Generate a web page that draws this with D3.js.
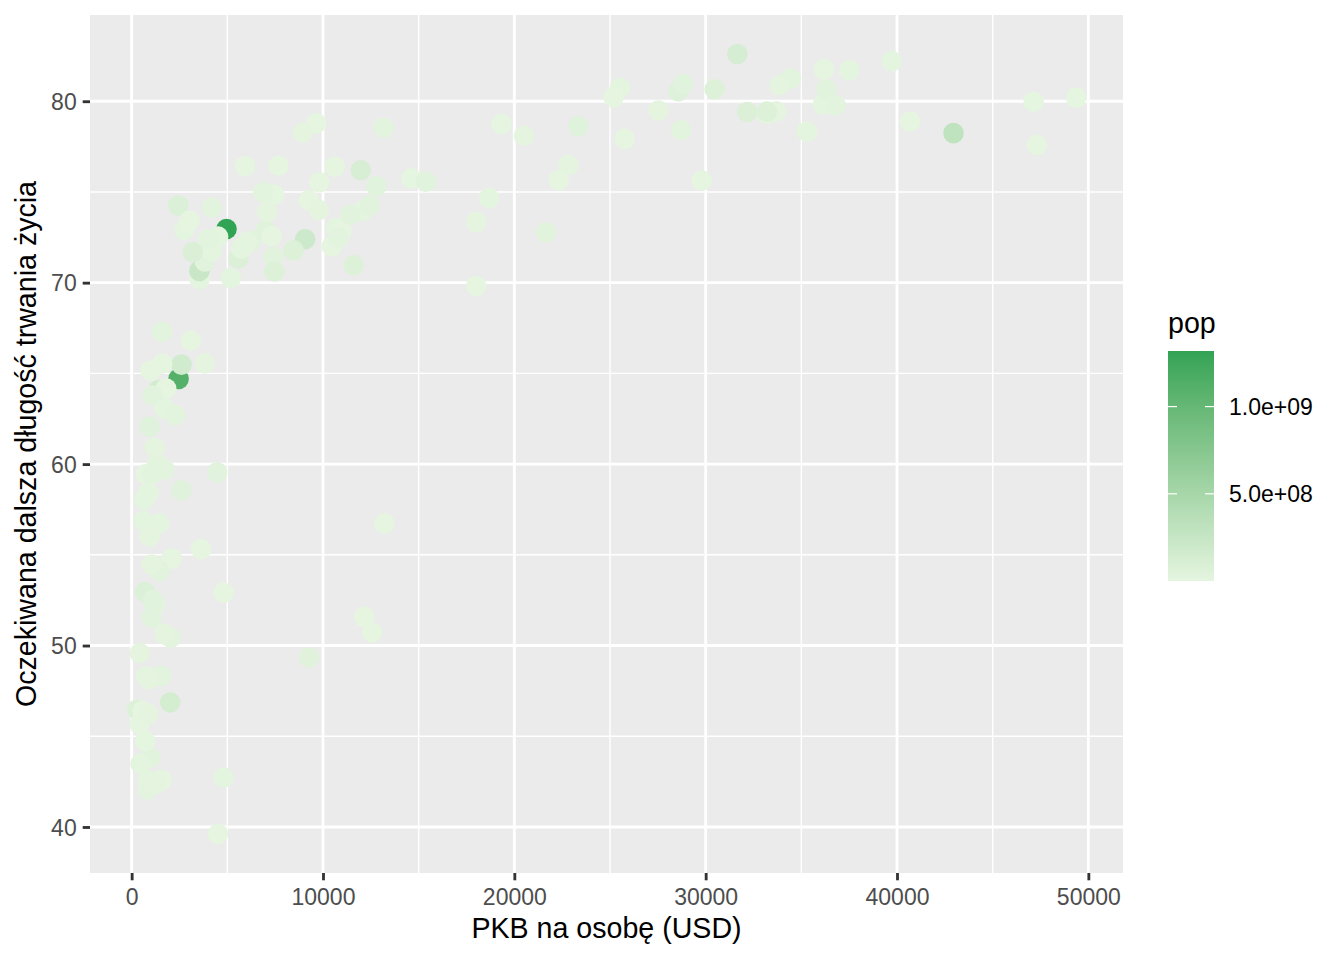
<!DOCTYPE html>
<html><head><meta charset="utf-8">
<script src="https://cdn.jsdelivr.net/npm/d3@7"></script>
<style>body{margin:0;background:#fff}svg{display:block;font-family:"Liberation Sans",Arial,Helvetica,sans-serif}</style>
</head><body><svg id="c" width="1344" height="960"></svg>
<script>
const countries=["Afghanistan","Albania","Algeria","Angola","Argentina","Australia","Austria","Bahrain","Bangladesh","Belgium","Benin","Bolivia","Bosnia and Herzegovina","Botswana","Brazil","Bulgaria","Burkina Faso","Burundi","Cambodia","Cameroon","Canada","Central African Republic","Chad","Chile","China","Colombia","Comoros","Congo, Dem. Rep.","Congo, Rep.","Costa Rica","Cote d'Ivoire","Croatia","Cuba","Czech Republic","Denmark","Djibouti","Dominican Republic","Ecuador","Egypt","El Salvador","Equatorial Guinea","Eritrea","Ethiopia","Finland","France","Gabon","Gambia","Germany","Ghana","Greece","Guatemala","Guinea","Guinea-Bissau","Haiti","Honduras","Hong Kong, China","Hungary","Iceland","India","Indonesia","Iran","Iraq","Ireland","Israel","Italy","Jamaica","Japan","Jordan","Kenya","Korea, Dem. Rep.","Korea, Rep.","Kuwait","Lebanon","Lesotho","Liberia","Libya","Madagascar","Malawi","Malaysia","Mali","Mauritania","Mauritius","Mexico","Mongolia","Montenegro","Morocco","Mozambique","Myanmar","Namibia","Nepal","Netherlands","New Zealand","Nicaragua","Niger","Nigeria","Norway","Oman","Pakistan","Panama","Paraguay","Peru","Philippines","Poland","Portugal","Puerto Rico","Reunion","Romania","Rwanda","Sao Tome and Principe","Saudi Arabia","Senegal","Serbia","Sierra Leone","Singapore","Slovak Republic","Slovenia","Somalia","South Africa","Spain","Sri Lanka","Sudan","Swaziland","Sweden","Switzerland","Syria","Taiwan","Tanzania","Thailand","Togo","Trinidad and Tobago","Tunisia","Turkey","Uganda","United Kingdom","United States","Uruguay","Venezuela","Vietnam","West Bank and Gaza","Yemen, Rep.","Zambia","Zimbabwe"];
const lifeExp=[43.828,76.423,72.301,42.731,75.320,81.235,79.829,75.635,64.062,79.441,56.728,65.554,74.852,50.728,72.390,73.005,52.295,49.580,59.723,50.430,80.653,44.741,50.651,78.553,72.961,72.889,65.152,46.462,55.322,78.782,48.328,75.748,78.273,76.486,78.332,54.791,72.235,74.994,71.338,71.878,51.579,58.040,52.947,79.313,80.657,56.735,59.448,79.406,60.022,79.483,70.259,56.007,46.388,60.916,70.198,82.208,73.338,81.757,64.698,70.650,70.964,59.545,78.885,80.745,80.546,72.567,82.603,72.535,54.110,67.297,78.623,77.588,71.993,42.592,45.678,73.952,59.443,48.303,74.241,54.467,64.164,72.801,76.195,66.803,74.543,71.164,42.082,62.069,52.906,63.785,79.762,80.204,72.899,56.867,46.859,80.196,75.640,65.483,75.537,71.752,71.421,71.688,75.563,78.098,78.746,76.442,72.476,46.242,65.528,72.777,63.062,74.002,42.568,79.972,74.663,77.926,48.159,49.339,80.941,72.396,58.556,39.613,80.884,81.701,74.143,78.400,52.517,70.616,58.420,69.819,73.923,71.777,51.542,79.425,78.242,76.384,73.747,74.249,73.422,62.698,42.384,43.487];
const pop=[31889923,3600523,33333216,12420476,40301927,20434176,8199783,708573,150448339,10392226,8078314,9119152,4552198,1639131,190010647,7322858,14326203,8390505,14131858,17696293,33390141,4369038,10238807,16284741,1318683096,44227550,710960,64606759,3800610,4133884,18013409,4493312,11416987,10228744,5468120,496374,9319622,13755680,80264543,6939688,551201,4906585,76511887,5238460,61083916,1454867,1688359,82400996,22873338,10706290,12572928,9947814,1472041,8502814,7483763,6980412,9956108,301931,1110396331,223547000,69453570,27499638,4109086,6426679,58147733,2780132,127467972,6053193,35610177,23301725,49044790,2505559,3921278,2012649,3193942,6036914,19167654,13327079,24821286,12031795,3270065,1250882,108700891,2874127,684736,33757175,19951656,47761980,2055080,28901790,16570613,4115771,5675356,12894865,135031164,4627926,3204897,169270617,3242173,6667147,28674757,91077287,38518241,10642836,3942491,798094,22276056,8860588,199579,27601038,12267493,10150265,6144562,4553009,5447502,2009245,9118773,43997828,40448191,20378239,42292929,1133066,9031088,7554661,19314747,23174294,38139640,65068149,5701579,1056608,10276158,71158647,29170398,60776238,301139947,3447496,26084662,85262356,4018332,22211743,11746035,12311143];
const gdpPercap=[974.5803,5937.030,6223.367,4797.231,12779.380,34435.367,36126.493,29796.048,1391.254,33692.605,1441.285,3822.137,7446.299,12569.852,9065.801,10680.793,1217.033,430.071,1713.779,2042.095,36319.235,706.017,1704.064,13171.639,4959.115,7006.580,986.148,277.552,3632.558,9645.061,1544.750,14619.223,8948.103,22833.309,35278.419,2082.482,6025.375,6873.262,5581.181,5728.354,12154.090,641.369,690.806,33207.084,30470.017,13206.485,752.750,32170.374,1327.609,27538.412,5186.050,942.654,579.232,1201.637,3548.331,39724.979,18008.944,36180.789,2452.210,3540.652,11605.714,4471.062,40675.996,25523.277,28569.720,7320.880,31656.068,4519.461,1463.249,1593.065,23348.140,47306.990,10461.059,1569.331,414.507,12057.499,1044.770,759.350,12451.656,1042.582,1803.151,10956.991,11977.575,3095.772,9253.896,3820.175,823.686,944.000,4811.060,1091.360,36797.933,25185.009,2749.321,619.677,2013.977,49357.190,22316.193,2605.948,9809.186,4172.838,7408.906,3190.481,15389.925,20509.648,19328.709,7670.123,10808.476,863.089,1598.435,21654.832,1712.472,9786.535,862.541,47143.180,18678.314,25768.258,926.142,9269.658,28821.064,3970.095,2602.395,4513.481,33859.748,37506.419,4184.548,28718.277,1107.482,7458.396,882.970,18008.509,7092.923,8458.276,1056.380,33203.261,42951.653,10611.463,11415.806,2441.577,3025.350,2280.770,1271.212,469.709];
const xTicks=[0,10000,20000,30000,40000,50000];
const yTicks=[40,50,60,70,80];
const legendTicks=[5e8,1e9];
const legendLabels=["5.0e+08","1.0e+09"];
const xTitle="PKB na osobę (USD)";
const yTitle="Oczekiwana dalsza długość trwania życia";
const legendTitle="pop";

const svg=d3.select("#c");
const P={l:90,r:1123,t:15,b:873};
const exp=(a,b)=>{const d=(b-a)*0.05;return [a-d,b+d];};
const x=d3.scaleLinear().domain(exp(d3.min(gdpPercap),d3.max(gdpPercap))).range([P.l,P.r]);
const y=d3.scaleLinear().domain(exp(d3.min(lifeExp),d3.max(lifeExp))).range([P.b,P.t]);
const popExt=d3.extent(pop);
const col=d3.scaleLinear().domain(popExt).range(["#e5f5e0","#31a354"]).interpolate(d3.interpolateLab);

svg.append("rect").attr("x",P.l).attr("y",P.t).attr("width",P.r-P.l).attr("height",P.b-P.t).attr("fill","#ebebeb");
const g=svg.append("g");
const xMinor=d3.range(0,55000,10000).map(v=>v+5000).filter(v=>x(v)>P.l&&x(v)<P.r);
const yMinor=[35,45,55,65,75,85].filter(v=>y(v)>P.t&&y(v)<P.b);
g.selectAll(".xm").data(xMinor).join("line").attr("x1",d=>x(d)).attr("x2",d=>x(d)).attr("y1",P.t).attr("y2",P.b).attr("stroke","#fff").attr("stroke-width",1.42);
g.selectAll(".ym").data(yMinor).join("line").attr("y1",d=>y(d)).attr("y2",d=>y(d)).attr("x1",P.l).attr("x2",P.r).attr("stroke","#fff").attr("stroke-width",1.42);
g.selectAll(".xM").data(xTicks).join("line").attr("x1",d=>x(d)).attr("x2",d=>x(d)).attr("y1",P.t).attr("y2",P.b).attr("stroke","#fff").attr("stroke-width",2.84);
g.selectAll(".yM").data(yTicks).join("line").attr("y1",d=>y(d)).attr("y2",d=>y(d)).attr("x1",P.l).attr("x2",P.r).attr("stroke","#fff").attr("stroke-width",2.84);

const idx=d3.range(countries.length);
svg.append("g").selectAll("circle").data(idx).join("circle")
 .attr("cx",i=>x(gdpPercap[i])).attr("cy",i=>y(lifeExp[i])).attr("r",10.3)
 .attr("fill",i=>col(pop[i]));

// axes
const xa=svg.append("g").attr("transform",`translate(0,${P.b})`).call(d3.axisBottom(x).tickValues(xTicks).tickFormat(d3.format("d")).tickSize(7.3).tickPadding(8));
const ya=svg.append("g").attr("transform",`translate(${P.l},0)`).call(d3.axisLeft(y).tickValues(yTicks).tickSize(7.3).tickPadding(6));
[xa,ya].forEach(a=>{a.select(".domain").remove();a.selectAll(".tick line").attr("stroke","#333").attr("stroke-width",2.84);
 a.selectAll("text").attr("fill","#4d4d4d").attr("font-size",23).attr("font-family","Liberation Sans, Arial, sans-serif");});
ya.selectAll("text").attr("dy","0.36em");
xa.selectAll("text").attr("dy","0.72em");

svg.append("text").attr("x",(P.l+P.r)/2).attr("y",938).attr("text-anchor","middle").attr("font-size",28.6).attr("fill","#000").text(xTitle);
svg.append("text").attr("transform",`translate(36,${(P.t+P.b)/2}) rotate(-90)`).attr("text-anchor","middle").attr("font-size",28.6).attr("fill","#000").text(yTitle);

// legend
const L={x:1168,w:46,t:351,b:581};
const ly=d3.scaleLinear().domain(popExt).range([L.b,L.t]);
const defs=svg.append("defs");
const gr=defs.append("linearGradient").attr("id","lg").attr("x1",0).attr("x2",0).attr("y1",1).attr("y2",0);
d3.range(0,1.0001,0.05).forEach(t=>gr.append("stop").attr("offset",t).attr("stop-color",col(popExt[0]+t*(popExt[1]-popExt[0]))));
svg.append("rect").attr("x",L.x).attr("y",L.t).attr("width",L.w).attr("height",L.b-L.t).attr("fill","url(#lg)");
const lt=svg.append("g");
legendTicks.forEach((v,i)=>{
 const yy=ly(v);
 lt.append("line").attr("x1",L.x).attr("x2",L.x+9).attr("y1",yy).attr("y2",yy).attr("stroke","#fff").attr("stroke-width",1.2);
 lt.append("line").attr("x1",L.x+L.w-9).attr("x2",L.x+L.w).attr("y1",yy).attr("y2",yy).attr("stroke","#fff").attr("stroke-width",1.2);
 lt.append("text").attr("x",1229).attr("y",yy).attr("dy","0.36em").attr("font-size",23).attr("fill","#000").text(legendLabels[i]);
});
svg.append("text").attr("x",L.x).attr("y",333).attr("font-size",28.6).attr("fill","#000").text(legendTitle);
</script></body></html>
